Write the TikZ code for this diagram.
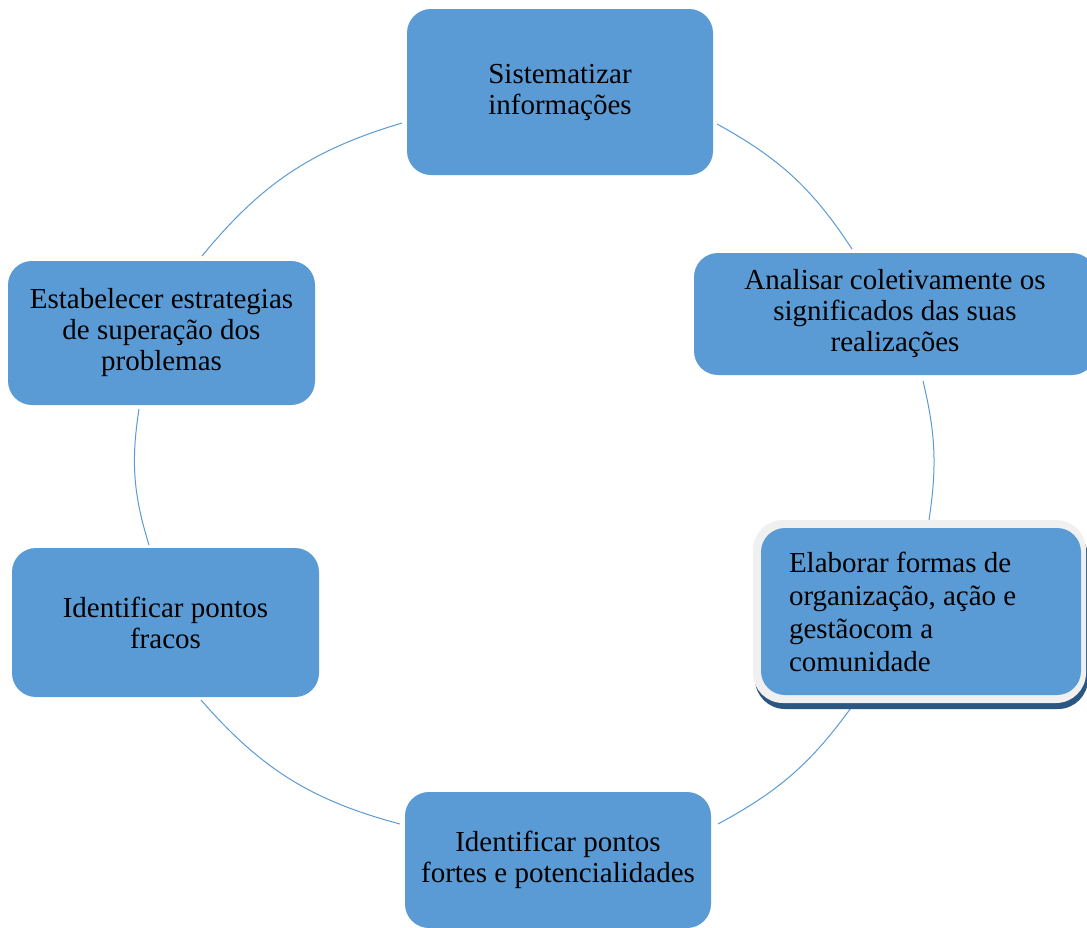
\documentclass[tikz,border=0pt]{standalone}
\usepackage{fontspec}
\setmainfont{Liberation Serif}
\definecolor{boxblue}{RGB}{91,155,213}
\definecolor{shadowblue}{RGB}{44,86,130}
\definecolor{rimgray}{RGB}{240,240,240}
\tikzset{
  box/.style={rectangle, rounded corners=24pt, fill=boxblue, inner sep=0pt,
    align=center, text=black, font=\fontsize{29}{31}\selectfont},
  arcline/.style={draw=boxblue, line width=1pt}
}
\begin{document}
\begin{tikzpicture}[x=1pt,y=-1pt]
\clip (0,0) rectangle (1087,927);
\fill[white] (0,0) rectangle (1087,927);

% arc end points
\coordinate (f1) at (202,256); \coordinate (f2) at (402,123);
\coordinate (a1) at (717,124); \coordinate (a2) at (852,249);
\coordinate (b1) at (923,381); \coordinate (b2) at (929,520);
\coordinate (c1) at (853,705); \coordinate (c2) at (718,824);
\coordinate (d1) at (400,824); \coordinate (d2) at (201,700);
\coordinate (e1) at (149,545); \coordinate (e2) at (139,409);

\draw[arcline] (f1) to[bend left=17] (f2);
\draw[arcline] (a1) to[bend left=14] (a2);
\draw[arcline] (b1) to[bend left=11] (b2);
\draw[arcline] (c1) to[bend left=13] (c2);
\draw[arcline] (d1) to[bend left=17] (d2);
\draw[arcline] (e1) to[bend left=13] (e2);

% nodes
\node[box, minimum width=306pt, minimum height=166pt] (sis) at (560,92)
  {Sistematizar\\informações};
\node[box, minimum width=402pt, minimum height=122pt] (ana) at (895,314)
  {Analisar coletivamente os\\significados das suas\\realizações};

\fill[shadowblue, rounded corners=30pt] (755,527) rectangle (1088,709);
\fill[rimgray, rounded corners=30pt] (753,520) rectangle (1086,703);
\node[box, minimum width=320pt, minimum height=167pt, text width=264pt,
  align=flush left, font=\fontsize{29}{33}\selectfont] (ela) at (921,611.5)
  {Elaborar formas de\\organização, ação e\\gestãocom a\\comunidade};

\node[box, minimum width=306pt, minimum height=136pt] (fte) at (558,860)
  {Identificar pontos\\fortes e potencialidades};
\node[box, minimum width=307pt, minimum height=149pt] (fra) at (165.5,622.5)
  {Identificar pontos\\fracos};
\node[box, minimum width=307pt, minimum height=144pt] (est) at (161.5,333)
  {Estabelecer estrategias\\de superação dos\\problemas};
\end{tikzpicture}
\end{document}
